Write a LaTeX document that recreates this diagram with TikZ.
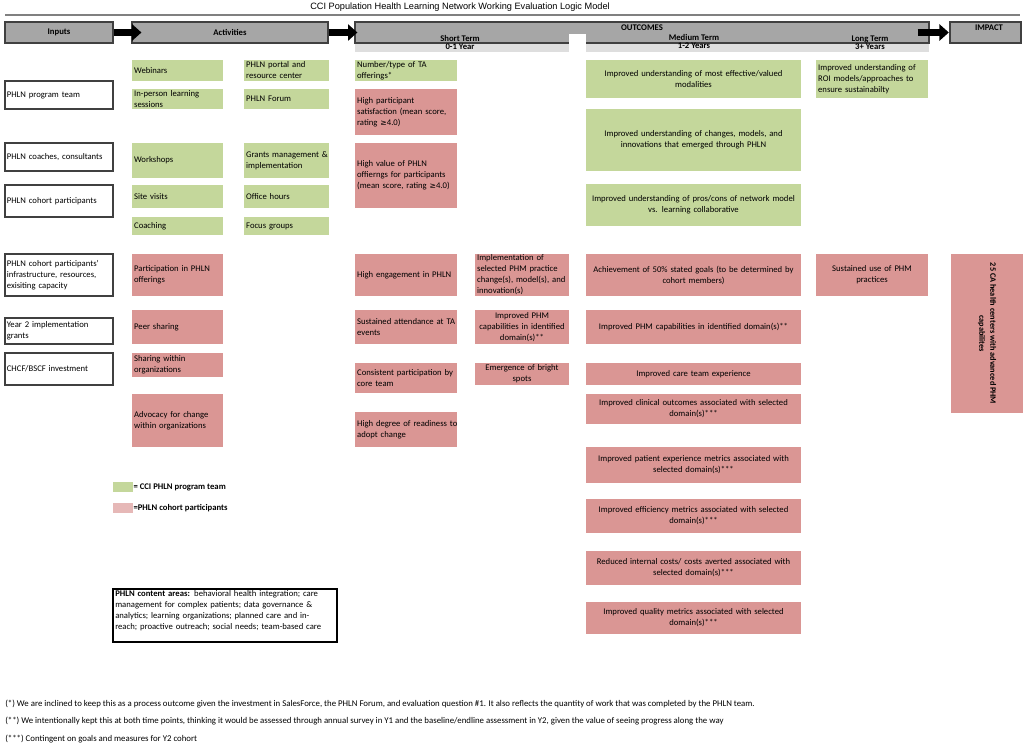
\documentclass[tikz,border=0pt]{standalone}
\usepackage{fontspec}
\setmainfont{Carlito}
\newfontfamily\titlefont{Liberation Sans}
\newfontfamily\symfont{DejaVu Sans}
\usetikzlibrary{arrows.meta}
\definecolor{grn}{HTML}{C4D79B}
\definecolor{pnk}{HTML}{DA9694}
\definecolor{lpnk}{HTML}{E6B8B7}
\definecolor{hdrgray}{HTML}{A6A6A6}
\definecolor{hdredge}{HTML}{404040}
\definecolor{stripgray}{HTML}{DEDEDE}
\newcommand\sz{\fontsize{6.5}{8.25}\selectfont}
\newcommand\geqsym{{\symfont\fontsize{5.8}{8.25}\selectfont ≥}}
% box: name, x1, y1, x2, y2, box style
\newcommand\mkbox[6]{%
  \pgfmathsetmacro\bxw{(#4-#2)*0.75}%
  \pgfmathsetmacro\bxh{(#5-#3)*0.75}%
  \pgfmathsetmacro\bxt{(#4-#2+30)*0.75}%
  \node[#6, inner sep=0pt, minimum width=\bxw pt, minimum height=\bxh pt]
    (#1) at ({(#2+#4)/2},{(#3+#5)/2}) {};}
% left-aligned text box
\newcommand\bxl[7]{\mkbox{#1}{#2}{#3}{#4}{#5}{#6}%
  \node[txt, anchor=west, align=left, text width=\bxt pt] (#1t) at ([xshift=1.6pt]#1.west) {#7};}
% centred text box
\newcommand\bxc[7]{\mkbox{#1}{#2}{#3}{#4}{#5}{#6}%
  \node[txt, align=center, text width=\bxt pt] (#1t) at (#1.center) {#7};}
\tikzset{
  txt/.style={inner sep=0pt},
  inbox/.style={draw=hdredge, line width=0.8pt, fill=white},
  gbox/.style={fill=grn},
  pbox/.style={fill=pnk},
  hdr/.style={draw=hdredge, fill=hdrgray, line width=0.8pt},
  hdrtxt/.style={inner sep=0pt, font=\sz\bfseries},
  bigarrow/.style={line width=5.2pt, -{Triangle[length=7pt,width=12pt]}},
  note/.style={inner sep=0pt, anchor=west, font=\fontsize{6.6}{7}\selectfont},
}
\begin{document}
\begin{tikzpicture}[x=0.75pt, y=-0.75pt, font=\sz]
\useasboundingbox (0,0) rectangle (1024,746);
% title
\node[inner sep=0pt, font=\titlefont\fontsize{6.9}{8}\selectfont] (title) at (460,7) {CCI Population Health Learning Network Working Evaluation Logic Model};
\draw[gray, line width=1.5pt] (5,15) -- (1020,15);
% headers
\mkbox{hin}{5}{22}{113}{43}{hdr}
\node[hdrtxt] (hint) at (hin.center) {Inputs};
\mkbox{hact}{132}{22}{328}{43}{hdr}
\node[hdrtxt] (hactt) at (hact.center) {Activities};
\fill[stripgray] (355,43) rectangle (929,52);
\mkbox{hout}{355}{22}{929}{43}{hdr}
\fill[white] (569,34) rectangle (586,52.5);
\mkbox{himp}{950}{22}{1021}{43}{hdr}
\node[hdrtxt] (himpt) at (989,28) {IMPACT};
\node[hdrtxt] (toc) at (642,28) {OUTCOMES};
\node[hdrtxt] (tst) at (460,38.5) {Short Term};
\node[hdrtxt] (tsty) at (460,47) {0-1 Year};
\node[hdrtxt] (tmt) at (694,37) {Medium Term};
\node[hdrtxt] (tmty) at (694,46) {1-2 Years};
\node[hdrtxt] (tlt) at (870,39) {Long Term};
\node[hdrtxt] (tlty) at (870,47) {3+ Years};
\draw[bigarrow, shorten >=-7.5pt] (hin.east) -- (hact.west);
\draw[bigarrow, shorten >=-2.2pt] (hact.east) -- (hout.west);
\draw[bigarrow, shorten <=-9pt, shorten >=0.5pt] (hout.east) -- (himp.west);
% inputs
\bxl{i1}{5}{81}{113}{109}{inbox}{PHLN program team}
\bxl{i2}{5}{143}{113}{171}{inbox}{PHLN coaches, consultants}
\bxl{i3}{5}{185}{113}{217}{inbox}{PHLN cohort participants}
\bxl{i4}{5}{254}{113}{296}{inbox}{PHLN cohort participants'\\infrastructure, resources,\\exisiting capacity}
\bxl{i5}{5}{318}{113}{344}{inbox}{Year 2 implementation\\grants}
\bxl{i6}{5}{353}{113}{385}{inbox}{CHCF/BSCF investment}
% activities
\bxl{a1}{132}{60}{223}{81}{gbox}{Webinars}
\bxl{a2}{244}{60}{329}{81}{gbox}{PHLN portal and\\resource center}
\bxl{a3}{132}{89}{223}{109}{gbox}{In-person learning\\sessions}
\bxl{a4}{244}{89}{329}{109}{gbox}{PHLN Forum}
\bxl{a5}{132}{143}{223}{178}{gbox}{Workshops}
\bxl{a6}{244}{143}{329}{178}{gbox}{Grants management \&\\implementation}
\bxl{a7}{132}{185}{223}{208}{gbox}{Site visits}
\bxl{a8}{244}{185}{329}{208}{gbox}{Office hours}
\bxl{a9}{132}{217}{223}{235}{gbox}{Coaching}
\bxl{a10}{244}{217}{329}{235}{gbox}{Focus groups}
\bxl{a11}{132}{254}{223}{296}{pbox}{Participation in PHLN\\offerings}
\bxl{a12}{132}{310}{223}{344}{pbox}{Peer sharing}
\bxl{a13}{132}{353}{223}{377}{pbox}{Sharing within\\organizations}
\bxl{a14}{132}{394}{223}{447}{pbox}{Advocacy for change\\within organizations}
% short term
\bxl{s1}{355}{60}{457}{81}{gbox}{Number/type of TA\\offerings*}
\bxl{s2}{355}{89}{457}{135}{pbox}{High participant\\satisfaction (mean score,\\rating \geqsym4.0)}
\bxl{s3}{355}{143}{457}{208}{pbox}{High value of PHLN\\offierngs for participants\\(mean score, rating \geqsym4.0)}
\bxl{s4}{355}{254}{457}{296}{pbox}{High engagement in PHLN}
\bxl{s5}{355}{310}{457}{344}{pbox}{Sustained attendance at TA\\events}
\bxl{s6}{355}{363}{457}{393}{pbox}{Consistent participation by\\core team}
\bxl{s7}{355}{412}{457}{447}{pbox}{High degree of readiness to\\adopt change}
\bxl{s8}{475}{254}{569}{296}{pbox}{Implementation of\\selected PHM practice\\change(s), model(s), and\\innovation(s)}
\bxc{s9}{475}{310}{569}{344}{pbox}{Improved PHM\\capabilities in identified\\domain(s)**}
\bxc{s10}{475}{363}{569}{385}{pbox}{Emergence of bright\\spots}
% medium term
\bxc{m1}{586}{60}{801}{98}{gbox}{Improved understanding of most effective/valued\\modalities}
\bxc{m2}{586}{109}{801}{171}{gbox}{Improved understanding of changes, models, and\\innovations that emerged through PHLN}
\bxc{m3}{586}{184}{801}{226}{gbox}{Improved understanding of pros/cons of network model\\vs. learning collaborative}
\bxc{m4}{586}{254}{801}{296}{pbox}{Achievement of 50\% stated goals (to be determined by\\cohort members)}
\bxc{m5}{586}{310}{801}{344}{pbox}{Improved PHM capabilities in identified domain(s)**}
\bxc{m6}{586}{363}{801}{385}{pbox}{Improved care team experience}
\bxc{m7}{586}{394}{801}{424}{pbox}{Improved clinical outcomes associated with selected\\domain(s)***}
\bxc{m8}{586}{447}{801}{483}{pbox}{Improved patient experience metrics associated with\\selected domain(s)***}
\bxc{m9}{586}{499}{801}{533}{pbox}{Improved efficiency metrics associated with selected\\domain(s)***}
\bxc{m10}{586}{551}{801}{585}{pbox}{Reduced internal costs/ costs averted associated with\\selected domain(s)***}
\bxc{m11}{586}{602}{801}{634}{pbox}{Improved quality metrics associated with selected\\domain(s)***}
% long term
\bxl{l1}{816}{60}{928}{98}{gbox}{Improved understanding of\\ROI models/approaches to\\ensure sustainabilty}
\bxc{l2}{816}{254}{928}{296}{pbox}{Sustained use of PHM\\practices}
% impact
\node[fill=pnk, inner sep=0pt, align=center, rotate=-90, font=\fontsize{6.2}{8.25}\selectfont\bfseries,
      minimum width=159*0.75pt, minimum height=72*0.75pt] (imp) at (987,333.5)
      {25 CA health centers with advanced PHM\\capabilites};
% legend
\node[fill=grn, inner sep=0pt, minimum width=20*0.75pt, minimum height=10*0.75pt] (lg1) at (123,487) {};
\node[inner sep=0pt, anchor=west, font=\sz\bfseries] (lg1t) at (lg1.east) {= CCI PHLN program team};
\node[fill=lpnk, inner sep=0pt, minimum width=20*0.75pt, minimum height=10*0.75pt] (lg2) at (123,508) {};
\node[inner sep=0pt, anchor=west, font=\sz\bfseries] (lg2t) at (lg2.east) {=PHLN cohort participants};
% content areas
\node[draw=black, line width=1.1pt, inner sep=0pt, minimum width=224*0.75pt, minimum height=53*0.75pt] (cabox) at (225,615.5) {};
\node[inner sep=0pt, anchor=north west, align=left, text width=235*0.75pt] (catext) at (115,590.5)
  {\textbf{PHLN content areas:} behavioral health integration; care\\management for complex patients; data governance \&\\analytics; learning organizations; planned care and in-\\reach; proactive outreach; social needs; team-based care};
% footnotes
\node[note] (fn1) at (5,704) {(*) We are inclined to keep this as a process outcome given the investment in SalesForce, the PHLN Forum, and evaluation question \#1. It also reflects the quantity of work that was completed by the PHLN team.};
\node[note] (fn2) at (5,721) {(**) We intentionally kept this at both time points, thinking it would be assessed through annual survey in Y1 and the baseline/endline assessment in Y2, given the value of seeing progress along the way};
\node[note] (fn3) at (5,739) {(***) Contingent on goals and measures for Y2 cohort};
\end{tikzpicture}
\end{document}
